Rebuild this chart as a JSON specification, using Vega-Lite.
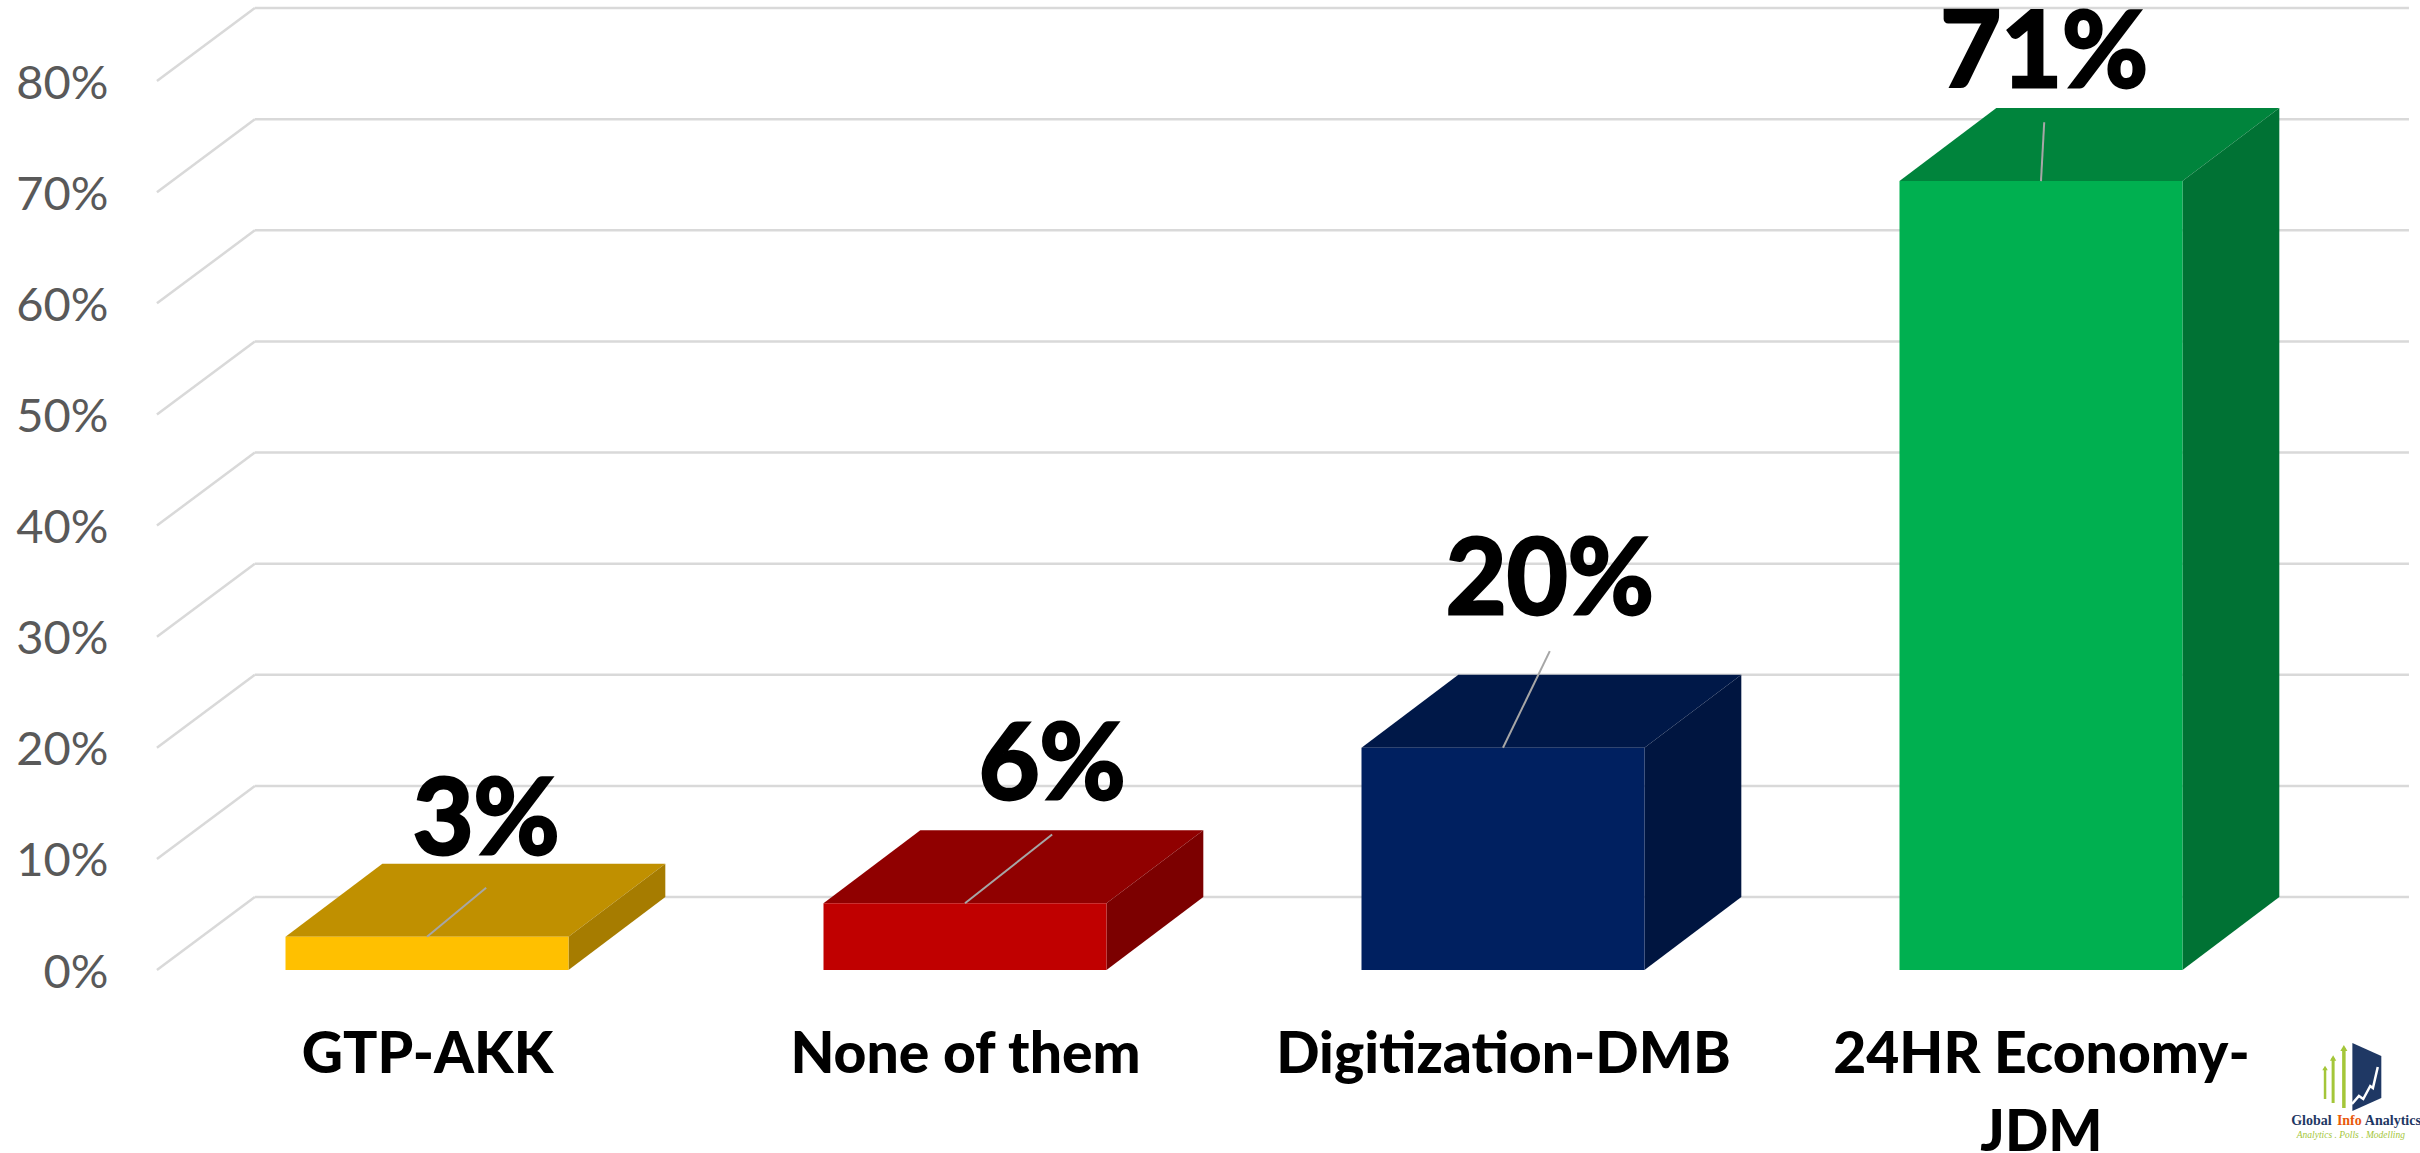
{"$schema":"https://vega.github.io/schema/vega-lite/v6.json","width":2262,"height":970,"autosize":{"type":"none"},"padding":{"left":158,"top":0,"right":0,"bottom":183},"background":"white","view":{"stroke":null},
"config":{"axis":{"grid":false,"ticks":false,"domain":false,"title":null}},
"data":{"values":[{"category":"GTP-AKK","value":3},{"category":"None of them","value":6},{"category":"Digitization-DMB","value":20},{"category":"24HR Economy-JDM","value":71}]},
"transform":[{"calculate":"indexof(['GTP-AKK','None of them','Digitization-DMB','24HR Economy-JDM'],datum.category)+0.5","as":"slot"},{"calculate":"datum.slot-0.263","as":"left"},{"calculate":"datum.slot+0.263","as":"right"},
{"calculate":"datum.slot+{'GTP-AKK':0.11,'None of them':0.162,'Digitization-DMB':0.087,'24HR Economy-JDM':0.006}[datum.category]","as":"tipX"},
{"calculate":"{'GTP-AKK':7.4,'None of them':12.2,'Digitization-DMB':28.7,'24HR Economy-JDM':76.3}[datum.category]","as":"tipY"},
{"calculate":"{'GTP-AKK':10.44,'None of them':15.4,'Digitization-DMB':32,'24HR Economy-JDM':79.5}[datum.category]","as":"labelY"},
{"calculate":"datum.value+'%'","as":"label"}],
"resolve":{"scale":{"color":"independent"}},
"layer":[
{"data":{"values":[{"level":0},{"level":10},{"level":20},{"level":30},{"level":40},{"level":50},{"level":60},{"level":70},{"level":80}]},
"transform":[{"calculate":"datum.level+6.57","as":"backLevel"},{"calculate":"0.18","as":"backX"},{"calculate":"-0.002","as":"frontX"}],
"mark":{"type":"rule","color":"#D9D9D9","strokeWidth":2.5},"encoding":{
"x":{"field":"frontX","type":"quantitative","scale":{"domain":[0,4.2045]},"title":null,"axis":{"title":null,"values":[0.5,1.5,2.5,3.5],"grid":false,"ticks":false,"domain":false,"labelExpr":"datum.value==0.5?'GTP-AKK':datum.value==1.5?'None of them':datum.value==2.5?'Digitization-DMB':['24HR Economy-','JDM']","labelFont":"Lato","labelFontWeight":900,"labelFontSize":57,"labelColor":"#000000","labelPadding":102,"labelBaseline":"alphabetic","labelLineHeight":78,"labelOverlap":false,"labelFlush":false,"labelLimit":1000,"labelAngle":0}},
"x2":{"field":"backX"},
"y":{"field":"level","type":"quantitative","scale":{"domain":[0,87.3]},"title":null,"axis":{"title":null,"values":[0,10,20,30,40,50,60,70,80],"grid":false,"ticks":false,"domain":false,"labelExpr":"datum.value+'%'","labelFont":"Lato","labelFontSize":47,"labelColor":"#595959","labelPadding":50,"labelOverlap":false,"labelFlush":false,"labelOffset":3}},
"y2":{"field":"backLevel"}}},
{"data":{"values":[{"level":0},{"level":10},{"level":20},{"level":30},{"level":40},{"level":50},{"level":60},{"level":70},{"level":80}]},
"transform":[{"calculate":"datum.level+6.57","as":"backLevel"},{"calculate":"0.18","as":"backX"},{"calculate":"4.184","as":"endX"}],
"mark":{"type":"rule","color":"#D9D9D9","strokeWidth":2.5},"encoding":{
"x":{"field":"backX","type":"quantitative","scale":{"domain":[0,4.2045]},"title":null},
"x2":{"field":"endX"},
"y":{"field":"backLevel","type":"quantitative","scale":{"domain":[0,87.3]},"title":null}}},
{"transform":[{"calculate":"[0,1]","as":"t"},{"flatten":["t"]},{"calculate":"datum.left+datum.t*0.18","as":"xa"},{"calculate":"datum.right+datum.t*0.18","as":"xb"},{"calculate":"datum.value+datum.t*6.57","as":"yy"}],
"mark":{"type":"area","orient":"horizontal"},"encoding":{
"x":{"field":"xa","type":"quantitative","scale":{"domain":[0,4.2045]},"title":null},"x2":{"field":"xb"},
"y":{"field":"yy","type":"quantitative","scale":{"domain":[0,87.3]},"title":null},
"color":{"field":"category","type":"nominal","legend":null,"scale":{"domain":["GTP-AKK","None of them","Digitization-DMB","24HR Economy-JDM"],"range":["#C09000","#900000","#001848","#00843C"]}}}},
{"transform":[{"calculate":"[0,1]","as":"t"},{"flatten":["t"]},{"calculate":"datum.right+datum.t*0.18","as":"xa"},{"calculate":"datum.t*6.57","as":"ya"},{"calculate":"datum.value+datum.t*6.57","as":"yb"}],
"mark":{"type":"area"},"encoding":{
"x":{"field":"xa","type":"quantitative","scale":{"domain":[0,4.2045]},"title":null},
"y":{"field":"yb","type":"quantitative","scale":{"domain":[0,87.3]},"title":null},"y2":{"field":"ya"},
"color":{"field":"category","type":"nominal","legend":null,"scale":{"domain":["GTP-AKK","None of them","Digitization-DMB","24HR Economy-JDM"],"range":["#A67C00","#7C0000","#001540","#007234"]}}}},
{"transform":[{"calculate":"0","as":"base"}],"mark":{"type":"rect"},"encoding":{
"x":{"field":"left","type":"quantitative","scale":{"domain":[0,4.2045]},"title":null},"x2":{"field":"right"},
"y":{"field":"value","type":"quantitative","scale":{"domain":[0,87.3]},"title":null},"y2":{"field":"base"},
"color":{"field":"category","type":"nominal","legend":null,"scale":{"domain":["GTP-AKK","None of them","Digitization-DMB","24HR Economy-JDM"],"range":["#FFC000","#C00000","#002060","#00B050"]}}}},
{"mark":{"type":"rule","color":"#A6A6A6","strokeWidth":2},"encoding":{
"x":{"field":"slot","type":"quantitative","scale":{"domain":[0,4.2045]},"title":null},"x2":{"field":"tipX"},
"y":{"field":"value","type":"quantitative","scale":{"domain":[0,87.3]},"title":null},"y2":{"field":"tipY"}}},
{"mark":{"type":"text","font":"Lato","fontWeight":"bold","fontSize":105,"color":"#000000","stroke":"#000000","strokeWidth":3,"align":"center","baseline":"alphabetic"},"encoding":{
"x":{"field":"tipX","type":"quantitative","scale":{"domain":[0,4.2045]},"title":null},
"y":{"field":"labelY","type":"quantitative","scale":{"domain":[0,87.3]},"title":null},
"text":{"field":"label","type":"nominal"}}},
{"data":{"values":[{"a":4.0788,"top":-6.57,"bottom":-12.69},{"a":4.1326,"top":-7.74,"bottom":-11.52}]},
"mark":{"type":"area","color":"#1F3864"},"encoding":{
"x":{"field":"a","type":"quantitative","scale":{"domain":[0,4.2045]},"title":null},
"y":{"field":"top","type":"quantitative","scale":{"domain":[0,87.3]},"title":null},"y2":{"field":"bottom"}}},
{"data":{"values":[{"a":4.078,"b":-12.06},{"a":4.091,"b":-11.34},{"a":4.099,"b":-11.61},{"a":4.112,"b":-10.44},{"a":4.117,"b":-10.62},{"a":4.126,"b":-8.73}]},
"mark":{"type":"line","color":"#FFFFFF","strokeWidth":2.5},"encoding":{
"x":{"field":"a","type":"quantitative","scale":{"domain":[0,4.2045]},"title":null},
"y":{"field":"b","type":"quantitative","scale":{"domain":[0,87.3]},"title":null}}},
{"data":{"values":[{"a":4.028,"top":-8.82,"bottom":-11.61,"tier":"s"},{"a":4.043,"top":-7.92,"bottom":-11.97,"tier":"m"},{"a":4.063,"top":-7.02,"bottom":-12.42,"tier":"l"}]},
"mark":{"type":"rule","color":"#A4C639"},"encoding":{
"x":{"field":"a","type":"quantitative","scale":{"domain":[0,4.2045]},"title":null},
"y":{"field":"top","type":"quantitative","scale":{"domain":[0,87.3]},"title":null},"y2":{"field":"bottom"},
"strokeWidth":{"field":"tier","type":"nominal","legend":null,"scale":{"domain":["s","m","l"],"range":[2.5,3.5,6]}}}},
{"data":{"values":[{"a":4.028,"top":-8.82,"tier":"s"},{"a":4.043,"top":-7.92,"tier":"m"},{"a":4.063,"top":-7.02,"tier":"l"}]},
"mark":{"type":"point","shape":"triangle-up","filled":true,"color":"#A4C639","opacity":1},"encoding":{
"x":{"field":"a","type":"quantitative","scale":{"domain":[0,4.2045]},"title":null},
"y":{"field":"top","type":"quantitative","scale":{"domain":[0,87.3]},"title":null},
"size":{"field":"tier","type":"nominal","legend":null,"scale":{"domain":["s","m","l"],"range":[30,50,90]}}}},
{"data":{"values":[{"word":"Global","a":3.965,"b":-13.95},{"word":"Info","a":4.05,"b":-13.95},{"word":"Analytics","a":4.102,"b":-13.95}]},
"mark":{"type":"text","font":"Liberation Serif","fontWeight":"bold","fontSize":14,"align":"left","baseline":"alphabetic"},"encoding":{
"x":{"field":"a","type":"quantitative","scale":{"domain":[0,4.2045]},"title":null},
"y":{"field":"b","type":"quantitative","scale":{"domain":[0,87.3]},"title":null},
"text":{"field":"word","type":"nominal"},
"color":{"field":"word","type":"nominal","legend":null,"scale":{"domain":["Global","Info","Analytics"],"range":["#1F3864","#E8590C","#1F3864"]}}}},
{"data":{"values":[{"word":"Analytics . Polls . Modelling","a":4.076,"b":-15.1}]},
"mark":{"type":"text","font":"Liberation Serif","fontStyle":"italic","fontSize":9.5,"align":"center","baseline":"alphabetic","color":"#A4C639"},"encoding":{
"x":{"field":"a","type":"quantitative","scale":{"domain":[0,4.2045]},"title":null},
"y":{"field":"b","type":"quantitative","scale":{"domain":[0,87.3]},"title":null},
"text":{"field":"word","type":"nominal"}}}
]}
